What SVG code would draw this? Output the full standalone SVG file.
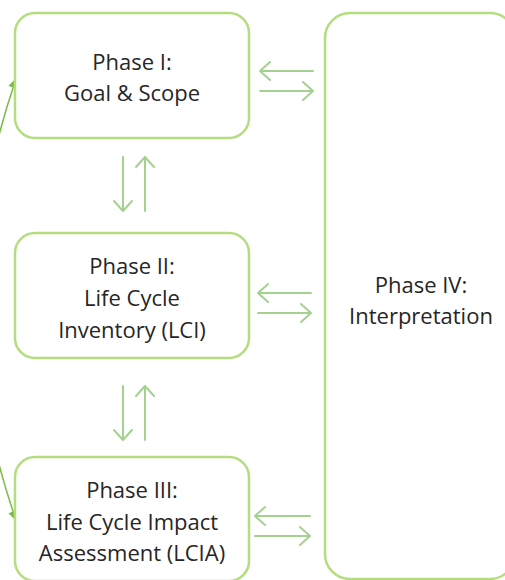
<svg xmlns="http://www.w3.org/2000/svg" width="505" height="580" viewBox="0 0 505 580">
<defs>
<marker id="tri" viewBox="0 0 10 10" refX="9" refY="5" markerWidth="10" markerHeight="10" markerUnits="userSpaceOnUse" orient="auto-start-reverse">
<path d="M0,0 L10,5 L0,10 z" fill="#7dbb45"/>
</marker>
<style>
.box{fill:#fff;stroke:#b5dd80;stroke-width:2.5}
.t{font-family:"Open Sans","Liberation Sans",sans-serif;font-size:22px;fill:#262626;text-anchor:middle}
.a{fill:none;stroke:#a5d190;stroke-width:2;stroke-linecap:round;stroke-linejoin:round}
</style>
</defs>
<rect width="505" height="580" fill="#fff"/>
<g id="connectors">
<path d="M16,79 C-36,230 -36,370 16,520" fill="none" stroke="#7dbb45" stroke-width="1.5" marker-start="url(#tri)" marker-end="url(#tri)"/>
<path class="a" d="M260,71 H313 M270,62 L260,71 L270,80"/>
<path class="a" d="M260,91 H313 M303,82 L313,91 L303,100"/>
<path class="a" d="M258,293 H311 M268,284 L258,293 L268,302"/>
<path class="a" d="M258,313 H311 M301,304 L311,313 L301,322"/>
<path class="a" d="M255,516 H310 M265,507 L255,516 L265,525"/>
<path class="a" d="M255,536 H310 M300,527 L310,536 L300,545"/>
<path class="a" d="M123,157 V211 M114,201 L123,211 L132,201"/>
<path class="a" d="M145,157 V211 M136,167 L145,157 L154,167"/>
<path class="a" d="M123,386 V440 M114,430 L123,440 L132,430"/>
<path class="a" d="M145,386 V440 M136,396 L145,386 L154,396"/>
</g>
<g id="phase1">
<rect class="box" x="15" y="13" width="234" height="125" rx="20"/>
<text class="t" x="132" y="70">Phase I:</text>
<text class="t" x="132" y="101">Goal &amp; Scope</text>
</g>
<g id="phase2">
<rect class="box" x="15" y="233" width="234" height="125" rx="20"/>
<text class="t" x="132" y="274">Phase II:</text>
<text class="t" x="132" y="306">Life Cycle</text>
<text class="t" x="132" y="338">Inventory (LCI)</text>
</g>
<g id="phase3">
<rect class="box" x="15" y="457" width="234" height="124" rx="20"/>
<text class="t" x="132" y="498">Phase III:</text>
<text class="t" x="132" y="530">Life Cycle Impact</text>
<text class="t" x="132" y="561">Assessment (LCIA)</text>
</g>
<g id="phase4">
<rect class="box" x="325" y="13" width="190" height="566" rx="25"/>
<text class="t" x="421" y="293">Phase IV:</text>
<text class="t" x="421" y="324">Interpretation</text>
</g>
</svg>
